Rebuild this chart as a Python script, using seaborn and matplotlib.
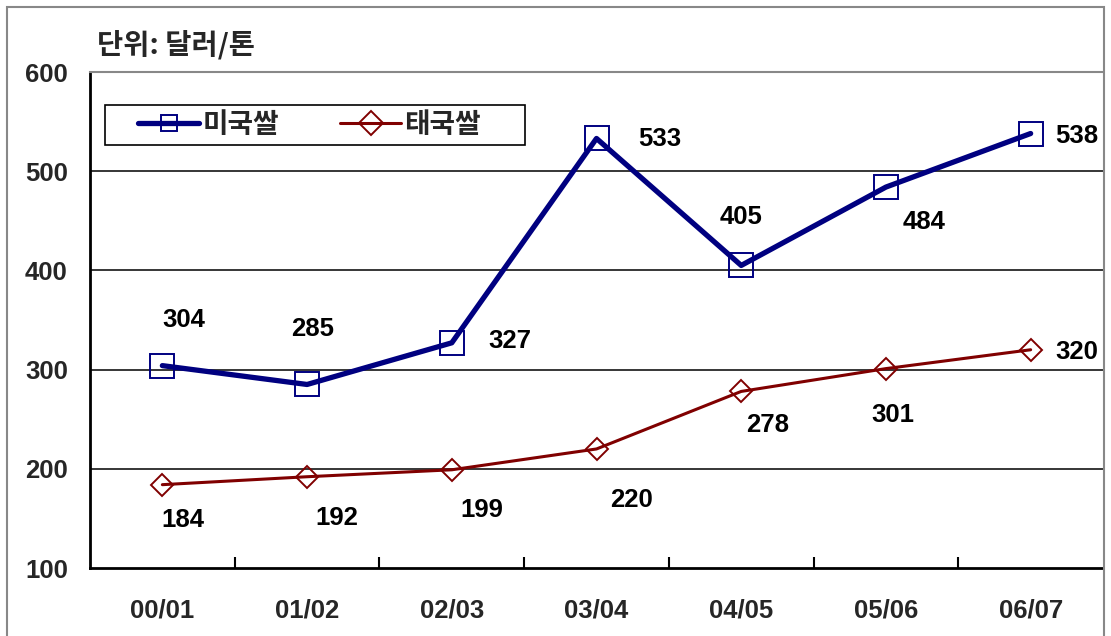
import matplotlib
matplotlib.use("Agg")
import matplotlib.pyplot as plt
import seaborn as sns
import pandas as pd
from matplotlib.patches import Rectangle

sns.set_theme(style="white")
plt.rcParams['font.family'] = ['Liberation Sans', 'Noto Sans CJK KR', 'DejaVu Sans']

categories = ["00/01", "01/02", "02/03", "03/04", "04/05", "05/06", "06/07"]
us_rice = [304, 285, 327, 533, 405, 484, 538]
thai_rice = [184, 192, 199, 220, 278, 301, 320]
series_names = ["미국쌀", "태국쌀"]
y_ticks = [100, 200, 300, 400, 500, 600]
unit_label = "단위: 달러/톤"

# label offsets in pixels (dx, dy downward)
us_off = [(21, -46), (6, -55), (58, -2), (63, 1), (0, -48), (38, 35), (46, 2)]
thai_off = [(21, 35), (30, 41), (30, 40), (35, 51), (26, 34), (7, 46), (46, 2)]

df = pd.DataFrame({
    "cat": categories * 2,
    "val": us_rice + thai_rice,
    "series": [series_names[0]] * len(categories) + [series_names[1]] * len(categories),
})

fig = plt.figure(figsize=(11.11, 6.36), dpi=100)
ax = fig.add_axes([90 / 1111, 68 / 636, 1013 / 1111, 496 / 636])

navy = "#000080"
dred = "#800000"
FS = 18.5

sns.lineplot(data=df[df.series == series_names[0]], x="cat", y="val", ax=ax,
             color=navy, lw=3.8, marker="s", markersize=17, markerfacecolor="none",
             markeredgecolor=navy, markeredgewidth=1.4, label=series_names[0], sort=False)
sns.lineplot(data=df[df.series == series_names[1]], x="cat", y="val", ax=ax,
             color=dred, lw=2.2, marker="D", markersize=11.5, markerfacecolor="none",
             markeredgecolor=dred, markeredgewidth=1.4, label=series_names[1], sort=False)

ax.set_xlim(-0.5, len(categories) - 0.5)
ax.set_ylim(100, 600)
ax.set_yticks(y_ticks)
ax.set_yticklabels([str(t) for t in y_ticks], fontsize=FS, fontweight="bold")
ax.set_xticks(range(len(categories)))
ax.set_xticklabels(categories, fontsize=FS, fontweight="bold")
ax.tick_params(axis="x", length=0, pad=22)
ax.tick_params(axis="y", length=0, pad=16)
ax.set_xticks([i + 0.5 for i in range(len(categories) - 1)], minor=True)
ax.tick_params(axis="x", which="minor", direction="in", length=8, width=1.5, color="black", bottom=True)
ax.set_xlabel("")
ax.set_ylabel("")

for t in y_ticks[1:-1]:
    ax.axhline(t, color="black", lw=1.1, zorder=0)

for s in ["left", "bottom"]:
    ax.spines[s].set_color("black")
    ax.spines[s].set_linewidth(2)
ax.spines["top"].set_color("#888888")
ax.spines["top"].set_linewidth(1.5)
ax.spines["right"].set_visible(False)

for i, (v, (dx, dy)) in enumerate(zip(us_rice, us_off)):
    ax.annotate(str(v), (i, v), xytext=(dx, -dy), textcoords="offset pixels",
                ha="center", va="center", fontsize=FS, fontweight="bold", color="black")
for i, (v, (dx, dy)) in enumerate(zip(thai_rice, thai_off)):
    ax.annotate(str(v), (i, v), xytext=(dx, -dy), textcoords="offset pixels",
                ha="center", va="center", fontsize=FS, fontweight="bold", color="black")

# legend (frame drawn separately to match the wide box)
leg = ax.legend(loc="center left", bbox_to_anchor=(48 / 1013, (568 - 125) / 496), ncol=2,
                frameon=False, handlelength=2.2, columnspacing=2.2,
                handletextpad=0.12, borderpad=0, borderaxespad=0,
                prop={"size": 20, "weight": "bold", "family": ["Noto Sans CJK KR"]})
for h in leg.legend_handles:
    h.set_markersize(12)
ax.add_patch(Rectangle((15 / 1013, (568 - 145) / 496), 420 / 1013, 40 / 496,
                       transform=ax.transAxes, fill=True, facecolor="white",
                       edgecolor="black", lw=1.2, zorder=4))
leg.set_zorder(5)

fig.text(97 / 1111, 1 - 45 / 636, unit_label, fontsize=20.5, fontweight="bold",
         ha="left", va="center", family=["Noto Sans CJK KR", "DejaVu Sans"])

fig.patches.append(Rectangle((7 / 1111, -0.1), (1104 - 7) / 1111, 1.1 - 7 / 636,
                             transform=fig.transFigure, fill=False, edgecolor="#888888",
                             lw=1.5, clip_on=False))

fig.savefig("out.png", dpi=100, facecolor="white")
